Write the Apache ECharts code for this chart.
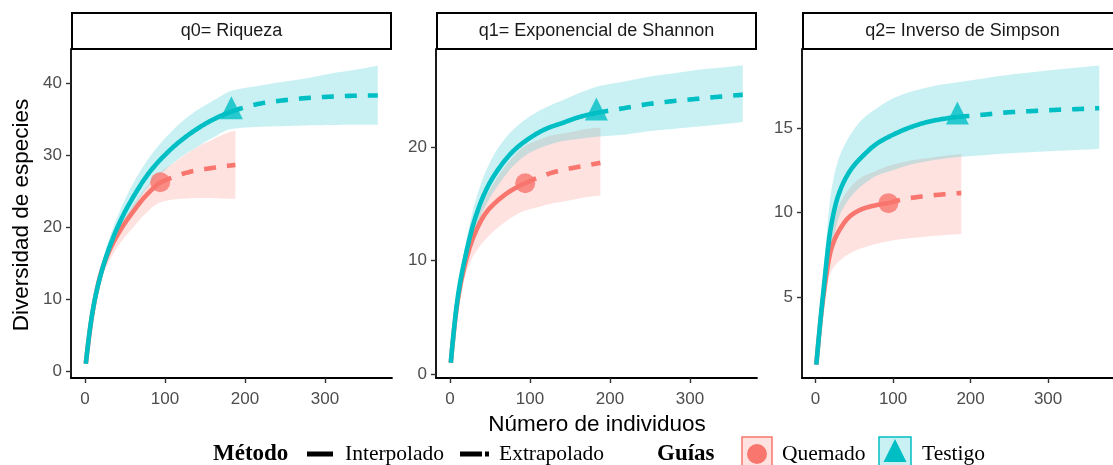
<!DOCTYPE html>
<html>
<head>
<meta charset="utf-8">
<title>Curvas de rarefacción y extrapolación</title>
<script src="https://cdn.jsdelivr.net/npm/echarts@6/dist/echarts.min.js"></script>
<style>
  html, body { margin: 0; padding: 0; background: #ffffff; }
  #chart { width: 1113px; height: 465px; }
</style>
</head>
<body>
<div id="chart"></div>
<script>
// ---------- data ----------
const panelTitles = ['q0= Riqueza', 'q1= Exponencial de Shannon', 'q2= Inverso de Simpson'];
const siteNames = ['Quemado', 'Testigo'];
const xTicks = [0, 100, 200, 300];
const yTicksQ0 = [0, 10, 20, 30, 40];
const yTicksQ1 = [0, 10, 20];
const yTicksQ2 = [5, 10, 15];

// sample sizes (number of individuals)
const quemadoIntX = [1, 10, 20, 30, 45, 60, 75, 94];
const quemadoExtX = [94, 110, 126, 142, 157, 172, 188];
const testigoIntX = [1, 10, 20, 30, 45, 60, 80, 100, 120, 140, 160, 183];
const testigoExtX = [183, 220, 250, 280, 310, 340, 366];

// q0 – richness
const q0QuemadoInt   = [1.0, 8.5, 13.6, 16.6, 19.7, 22.1, 24.2, 26.2];
const q0QuemadoIntLo = [1.0, 8.0, 12.6, 15.2, 17.9, 19.9, 21.8, 23.4];
const q0QuemadoIntHi = [1.0, 8.9, 14.2, 17.2, 20.2, 23.0, 25.3, 27.6];
const q0QuemadoExt   = [26.2, 26.9, 27.5, 27.9, 28.15, 28.4, 28.6];
const q0QuemadoExtLo = [23.4, 23.8, 23.95, 24.0, 24.0, 23.95, 23.9];
const q0QuemadoExtHi = [27.6, 28.8, 30.1, 31.2, 32.0, 32.8, 33.4];
const q0TestigoInt   = [1.0, 8.6, 13.5, 17.0, 21.0, 24.1, 27.5, 30.0, 32.0, 33.6, 34.9, 36.0];
const q0TestigoIntLo = [1.0, 8.0, 12.6, 15.9, 19.7, 22.6, 25.7, 27.9, 29.7, 31.1, 32.4, 33.6];
const q0TestigoIntHi = [1.0, 9.2, 14.5, 18.3, 22.6, 26.0, 29.6, 32.3, 34.5, 36.2, 37.5, 38.9];
const q0TestigoExt   = [36.0, 37.15, 37.6, 37.92, 38.1, 38.22, 38.25];
const q0TestigoExtLo = [33.6, 33.9, 34.0, 34.1, 34.15, 34.2, 34.2];
const q0TestigoExtHi = [38.9, 39.65, 40.2, 40.7, 41.35, 41.85, 42.4];

// q1 – exponential of Shannon
const q1QuemadoInt   = [1.0, 6.6, 10.0, 12.2, 14.2, 15.3, 16.1, 16.8];
const q1QuemadoIntLo = [1.0, 6.1, 8.9, 10.5, 11.9, 12.9, 13.7, 14.4];
const q1QuemadoIntHi = [1.0, 7.0, 10.7, 13.2, 15.6, 17.4, 18.8, 20.1];
const q1QuemadoExt   = [16.8, 17.3, 17.7, 18.0, 18.2, 18.4, 18.6];
const q1QuemadoExtLo = [14.4, 14.7, 15.0, 15.2, 15.4, 15.6, 15.7];
const q1QuemadoExtHi = [20.1, 20.6, 21.0, 21.2, 21.4, 21.6, 21.7];
const q1TestigoInt   = [1.0, 6.9, 10.6, 13.4, 16.2, 18.0, 19.7, 20.8, 21.6, 22.1, 22.6, 23.0];
const q1TestigoIntLo = [1.0, 6.4, 9.9, 12.3, 14.9, 16.6, 18.4, 19.5, 20.1, 20.5, 20.7, 20.9];
const q1TestigoIntHi = [1.0, 7.5, 11.6, 14.8, 17.9, 19.9, 21.6, 22.7, 23.5, 24.1, 24.7, 25.3];
const q1TestigoExt   = [23.0, 23.45, 23.8, 24.05, 24.25, 24.45, 24.6];
const q1TestigoExtLo = [20.9, 21.1, 21.4, 21.6, 21.8, 22.0, 22.2];
const q1TestigoExtHi = [25.3, 25.8, 26.2, 26.5, 26.8, 27.0, 27.2];

// q2 – inverse Simpson
const q2QuemadoInt   = [1.0, 5.0, 7.8, 8.9, 9.8, 10.2, 10.4, 10.55];
const q2QuemadoIntLo = [1.0, 4.4, 6.5, 7.1, 7.6, 7.9, 8.1, 8.3];
const q2QuemadoIntHi = [1.0, 5.7, 9.3, 10.4, 11.5, 12.1, 12.4, 12.75];
const q2QuemadoExt   = [10.55, 10.75, 10.88, 10.97, 11.04, 11.1, 11.15];
const q2QuemadoExtLo = [8.3, 8.42, 8.5, 8.57, 8.63, 8.68, 8.73];
const q2QuemadoExtHi = [12.75, 12.95, 13.1, 13.2, 13.3, 13.38, 13.46];
const q2TestigoInt   = [1.0, 5.3, 9.2, 11.1, 12.5, 13.3, 14.1, 14.6, 15.0, 15.3, 15.5, 15.65];
const q2TestigoIntLo = [1.0, 4.2, 7.6, 9.7, 10.9, 11.6, 12.2, 12.5, 12.8, 13.0, 13.15, 13.27];
const q2TestigoIntHi = [1.0, 6.3, 11.2, 13.2, 14.6, 15.5, 16.2, 16.75, 17.1, 17.35, 17.55, 17.7];
const q2TestigoExt   = [15.65, 15.8, 15.93, 16.0, 16.07, 16.12, 16.17];
const q2TestigoExtLo = [13.27, 13.4, 13.5, 13.57, 13.64, 13.7, 13.76];
const q2TestigoExtHi = [17.7, 17.95, 18.15, 18.3, 18.45, 18.58, 18.69];

// ---------- styling ----------
const RED = '#F8766D';
const TEAL = '#00BFC4';
const RED_FILL = 'rgba(248,118,109,0.21)';
const TEAL_FILL = 'rgba(0,191,196,0.21)';
const SANS = '"Liberation Sans", Arial, sans-serif';
const SERIF = '"Liberation Serif", "Times New Roman", serif';

const panels = [
  {
    title: panelTitles[0], yTicks: yTicksQ0, yMin: -0.97, yMax: 44.7,
    quemado: { int: q0QuemadoInt, intLo: q0QuemadoIntLo, intHi: q0QuemadoIntHi,
               ext: q0QuemadoExt, extLo: q0QuemadoExtLo, extHi: q0QuemadoExtHi },
    testigo: { int: q0TestigoInt, intLo: q0TestigoIntLo, intHi: q0TestigoIntHi,
               ext: q0TestigoExt, extLo: q0TestigoExtLo, extHi: q0TestigoExtHi }
  },
  {
    title: panelTitles[1], yTicks: yTicksQ1, yMin: -0.35, yMax: 28.63,
    quemado: { int: q1QuemadoInt, intLo: q1QuemadoIntLo, intHi: q1QuemadoIntHi,
               ext: q1QuemadoExt, extLo: q1QuemadoExtLo, extHi: q1QuemadoExtHi },
    testigo: { int: q1TestigoInt, intLo: q1TestigoIntLo, intHi: q1TestigoIntHi,
               ext: q1TestigoExt, extLo: q1TestigoExtLo, extHi: q1TestigoExtHi }
  },
  {
    title: panelTitles[2], yTicks: yTicksQ2, yMin: 0.21, yMax: 19.67,
    quemado: { int: q2QuemadoInt, intLo: q2QuemadoIntLo, intHi: q2QuemadoIntHi,
               ext: q2QuemadoExt, extLo: q2QuemadoExtLo, extHi: q2QuemadoExtHi },
    testigo: { int: q2TestigoInt, intLo: q2TestigoIntLo, intHi: q2TestigoIntHi,
               ext: q2TestigoExt, extLo: q2TestigoExtLo, extHi: q2TestigoExtHi }
  }
];

// panel geometry
const gridLefts = [71, 436, 802];
const GRID_TOP = 49;
const GRID_W = 321;
const GRID_H = 329;

// ---------- smooth curve helpers (monotone cubic, PCHIP) ----------
function pchipTangents(xs, ys) {
  const n = xs.length;
  const h = [], d = [];
  for (let k = 0; k < n - 1; k++) {
    h.push(xs[k + 1] - xs[k]);
    d.push((ys[k + 1] - ys[k]) / h[k]);
  }
  const m = new Array(n).fill(0);
  if (n === 2) { m[0] = m[1] = d[0]; return m; }
  for (let k = 1; k < n - 1; k++) {
    if (d[k - 1] * d[k] <= 0) { m[k] = 0; continue; }
    const w1 = 2 * h[k] + h[k - 1];
    const w2 = h[k] + 2 * h[k - 1];
    m[k] = (w1 + w2) / (w1 / d[k - 1] + w2 / d[k]);
  }
  const endSlope = (h0, h1, d0, d1) => {
    let s = ((2 * h0 + h1) * d0 - h0 * d1) / (h0 + h1);
    if (Math.sign(s) !== Math.sign(d0)) s = 0;
    else if (Math.sign(d0) !== Math.sign(d1) && Math.abs(s) > Math.abs(3 * d0)) s = 3 * d0;
    return s;
  };
  m[0] = endSlope(h[0], h[1], d[0], d[1]);
  m[n - 1] = endSlope(h[n - 2], h[n - 3], d[n - 2], d[n - 3]);
  return m;
}

// dense pixel points along a monotone spline through the given pixel points
function smoothPixels(pts, steps) {
  if (pts.length < 3) return pts.slice();
  const xs = pts.map(p => p[0]);
  const ys = pts.map(p => p[1]);
  const m = pchipTangents(xs, ys);
  const out = [];
  for (let k = 0; k < pts.length - 1; k++) {
    const h = xs[k + 1] - xs[k];
    for (let s = 0; s < steps; s++) {
      const t = s / steps, t2 = t * t, t3 = t2 * t;
      const y = (2 * t3 - 3 * t2 + 1) * ys[k] + (t3 - 2 * t2 + t) * h * m[k] +
                (-2 * t3 + 3 * t2) * ys[k + 1] + (t3 - t2) * h * m[k + 1];
      out.push([xs[k] + t * h, y]);
    }
  }
  out.push(pts[pts.length - 1]);
  return out;
}

function collect(api, params, yDim) {
  const pts = [];
  for (let i = 0; i < params.dataInsideLength; i++) {
    pts.push(api.coord([api.value(0, i), api.value(yDim, i)]));
  }
  return pts;
}

function bandRenderer(fill) {
  return function (params, api) {
    if (params.dataIndexInside !== 0) return null;
    const hi = smoothPixels(collect(api, params, 2), 14);
    const lo = smoothPixels(collect(api, params, 1), 14);
    return {
      type: 'polygon', silent: true,
      shape: { points: hi.concat(lo.reverse()) },
      style: { fill: fill, stroke: null }
    };
  };
}

function lineRenderer(color, dash) {
  return function (params, api) {
    if (params.dataIndexInside !== 0) return null;
    const pts = smoothPixels(collect(api, params, 1), 14);
    return {
      type: 'polyline', silent: true,
      shape: { points: pts },
      style: { fill: null, stroke: color, lineWidth: 4.6, lineDash: dash, lineCap: 'butt', lineJoin: 'round' }
    };
  };
}

function siteSeries(idx, key, d, intX, extX, color, fill, symbol) {
  const bandX = intX.concat(extX.slice(1));
  const lo = d.intLo.concat(d.extLo.slice(1));
  const hi = d.intHi.concat(d.extHi.slice(1));
  const common = { xAxisIndex: idx, yAxisIndex: idx, silent: true, animation: false };
  const refX = intX[intX.length - 1];
  const refY = d.int[d.int.length - 1];
  return [
    Object.assign({
      type: 'custom', name: key + ' IC', renderItem: bandRenderer(fill),
      data: bandX.map((x, i) => [x, lo[i], hi[i]]), encode: { x: 0, y: [1, 2] }, z: 1
    }, common),
    Object.assign({
      type: 'custom', name: key + ' interpolado', renderItem: lineRenderer(color, null),
      data: intX.map((x, i) => [x, d.int[i]]), encode: { x: 0, y: 1 }, z: 3
    }, common),
    Object.assign({
      type: 'custom', name: key + ' extrapolado', renderItem: lineRenderer(color, [12, 11]),
      data: extX.map((x, i) => [x, d.ext[i]]), encode: { x: 0, y: 1 }, z: 3
    }, common),
    Object.assign({
      type: 'scatter', name: key, data: [[refX, refY]],
      symbol: symbol, symbolSize: symbol === 'circle' ? 20 : [23, 23],
      symbolOffset: symbol === 'circle' ? [0, 0] : [0, -4],
      itemStyle: { color: color }, z: 4
    }, common)
  ];
}

const grids = [], xAxes = [], yAxes = [], series = [], graphics = [];

panels.forEach((p, i) => {
  const left = gridLefts[i];
  grids.push({ left: left, top: GRID_TOP, width: GRID_W, height: GRID_H, show: false });
  xAxes.push({
    gridIndex: i, type: 'value', min: -17.5, max: 383.75,
    axisLine: { show: true, onZero: false, lineStyle: { color: '#000', width: 1.8 } },
    axisTick: { show: true, length: 5, customValues: xTicks, lineStyle: { color: '#333', width: 1.4 } },
    axisLabel: { customValues: xTicks, color: '#4d4d4d', fontSize: 17, fontFamily: SANS, margin: 13 },
    splitLine: { show: false }
  });
  yAxes.push({
    gridIndex: i, type: 'value', min: p.yMin, max: p.yMax,
    axisLine: { show: true, onZero: false, lineStyle: { color: '#000', width: 1.8 } },
    axisTick: { show: true, length: 5, customValues: p.yTicks, lineStyle: { color: '#333', width: 1.4 } },
    axisLabel: { customValues: p.yTicks, color: '#4d4d4d', fontSize: 17, fontFamily: SANS, margin: 9 },
    splitLine: { show: false }
  });
  series.push(...siteSeries(i, siteNames[0], p.quemado, quemadoIntX, quemadoExtX, RED, RED_FILL, 'circle'));
  series.push(...siteSeries(i, siteNames[1], p.testigo, testigoIntX, testigoExtX, TEAL, TEAL_FILL, 'triangle'));

  // facet strip
  graphics.push({
    type: 'rect', silent: true, z: 10,
    shape: { x: left + 1, y: 13, width: GRID_W - 2, height: 36 },
    style: { fill: '#ffffff', stroke: '#000000', lineWidth: 2 }
  });
  graphics.push({
    type: 'text', silent: true, z: 11, x: left + GRID_W / 2, y: 31,
    style: { text: p.title, font: '18px ' + SANS, fill: '#1a1a1a', align: 'center', verticalAlign: 'middle' }
  });
});

// axis titles
graphics.push({
  type: 'text', silent: true, z: 11, x: 22, y: 215, rotation: Math.PI / 2,
  style: { text: 'Diversidad de especies', font: '22.5px ' + SANS, fill: '#000', align: 'center', verticalAlign: 'middle' }
});
graphics.push({
  type: 'text', silent: true, z: 11, x: 597, y: 425,
  style: { text: 'Número de individuos', font: '22.5px ' + SANS, fill: '#000', align: 'center', verticalAlign: 'middle' }
});

// legend: method
const LEG_Y = 454;
graphics.push({
  type: 'text', silent: true, z: 11, x: 213, y: LEG_Y,
  style: { text: 'Método', font: 'bold 23px ' + SERIF, fill: '#000', align: 'left', verticalAlign: 'middle' }
});
graphics.push({
  type: 'line', silent: true, z: 11,
  shape: { x1: 307, y1: LEG_Y, x2: 333, y2: LEG_Y }, style: { stroke: '#000', lineWidth: 5 }
});
graphics.push({
  type: 'text', silent: true, z: 11, x: 345, y: LEG_Y,
  style: { text: 'Interpolado', font: '21.5px ' + SERIF, fill: '#000', align: 'left', verticalAlign: 'middle' }
});
graphics.push({
  type: 'line', silent: true, z: 11,
  shape: { x1: 460, y1: LEG_Y, x2: 482, y2: LEG_Y }, style: { stroke: '#000', lineWidth: 5 }
});
graphics.push({
  type: 'line', silent: true, z: 11,
  shape: { x1: 485, y1: LEG_Y, x2: 489, y2: LEG_Y }, style: { stroke: '#000', lineWidth: 5 }
});
graphics.push({
  type: 'text', silent: true, z: 11, x: 499, y: LEG_Y,
  style: { text: 'Extrapolado', font: '21.5px ' + SERIF, fill: '#000', align: 'left', verticalAlign: 'middle' }
});

// legend: sites
graphics.push({
  type: 'text', silent: true, z: 11, x: 657, y: LEG_Y,
  style: { text: 'Guías', font: 'bold 23px ' + SERIF, fill: '#000', align: 'left', verticalAlign: 'middle' }
});
graphics.push({
  type: 'rect', silent: true, z: 11, shape: { x: 742, y: 437, width: 30, height: 34 },
  style: { fill: RED_FILL, stroke: RED, lineWidth: 1.5 }
});
graphics.push({
  type: 'circle', silent: true, z: 12, shape: { cx: 757, cy: 454, r: 10 }, style: { fill: RED }
});
graphics.push({
  type: 'text', silent: true, z: 11, x: 782, y: LEG_Y,
  style: { text: siteNames[0], font: '21.5px ' + SERIF, fill: '#000', align: 'left', verticalAlign: 'middle' }
});
graphics.push({
  type: 'rect', silent: true, z: 11, shape: { x: 879, y: 437, width: 32, height: 34 },
  style: { fill: TEAL_FILL, stroke: TEAL, lineWidth: 1.5 }
});
graphics.push({
  type: 'polygon', silent: true, z: 12,
  shape: { points: [[895, 439], [883.5, 462], [906.5, 462]] }, style: { fill: TEAL }
});
graphics.push({
  type: 'text', silent: true, z: 11, x: 922, y: LEG_Y,
  style: { text: siteNames[1], font: '21.5px ' + SERIF, fill: '#000', align: 'left', verticalAlign: 'middle' }
});

const chart = echarts.init(document.getElementById('chart'), null, { renderer: 'canvas' });
chart.setOption({
  animation: false,
  backgroundColor: '#ffffff',
  grid: grids,
  xAxis: xAxes,
  yAxis: yAxes,
  series: series,
  graphic: { elements: graphics }
});
</script>
</body>
</html>
